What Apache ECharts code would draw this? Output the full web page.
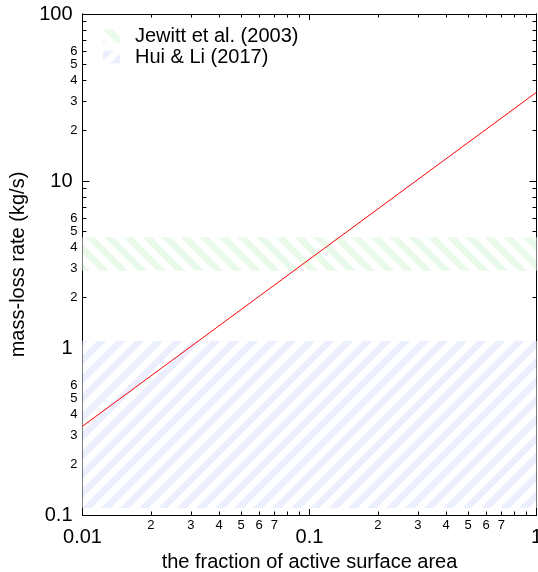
<!DOCTYPE html>
<html>
<head>
<meta charset="utf-8">
<script src="https://cdn.jsdelivr.net/npm/echarts@6/dist/echarts.min.js"></script>
<style>html,body{margin:0;padding:0;background:#fff}#c{width:538px;height:572px}</style>
</head>
<body>
<div id="c"></div>
<script>
// ---- data ----
const xMajor = [0.01, 0.1, 1];
const xMinor = [0.02,0.03,0.04,0.05,0.06,0.07,0.08,0.09,0.2,0.3,0.4,0.5,0.6,0.7,0.8,0.9];
const xMinorLabels = [0.02,0.03,0.04,0.05,0.06,0.07,0.2,0.3,0.4,0.5,0.6,0.7];
const yMajor = [0.1, 1, 10, 100];
const yMinor = [0.2,0.3,0.4,0.5,0.6,0.7,0.8,0.9,2,3,4,5,6,7,8,9,20,30,40,50,60,70,80,90];
const yMinorLabels = [0.2,0.3,0.4,0.5,0.6,2,3,4,5,6,20,30,40,50,60];
const lineX = [0.01, 1];
const lineY = [0.34, 34];
const jewittBand = [2.9, 4.6];
const huiBand = [0.11, 1.1];
const seriesNames = ['Jewitt et al. (2003)', 'Hui & Li (2017)'];

function makePattern(rgb, dir) {
  const P = 19;
  const c = document.createElement('canvas');
  c.width = P; c.height = P;
  const ctx = c.getContext('2d');
  const img = ctx.createImageData(P, P);
  for (let j = 0; j < P; j++) {
    for (let i = 0; i < P; i++) {
      let t = dir > 0 ? (i + j) : (i - j + P * 10);
      t = ((t % P) + P) % P;
      const half = P / 2;
      let a = Math.min(t + 0.5, half - t + 0.5);
      a = Math.max(0, Math.min(1, a));
      const k = (j * P + i) * 4;
      img.data[k] = Math.round(255 + (rgb[0] - 255) * a);
      img.data[k + 1] = Math.round(255 + (rgb[1] - 255) * a);
      img.data[k + 2] = Math.round(255 + (rgb[2] - 255) * a);
      img.data[k + 3] = 255;
    }
  }
  ctx.putImageData(img, 0, 0);
  return { image: c, repeat: 'repeat' };
}
const greenPat = makePattern([234, 250, 234], -1);
const bluePat = makePattern([236, 239, 254], 1);

const FONT = 'Liberation Sans, Arial, Helvetica, sans-serif';
const lead = v => String(Math.round(v / Math.pow(10, Math.floor(Math.log10(v) + 1e-9))));
const majFmt = v => {
  const map = {'-2': '0.01', '-1': '0.1', '0': '1', '1': '10', '2': '100'};
  return map[String(Math.round(Math.log10(v)))];
};

function xAx(pos, ticks, tickLen, labels, fmt, fs, margin, extra) {
  return Object.assign({
    type: 'log', logBase: 10, min: 0.01, max: 1, position: pos, gridIndex: 0,
    axisLine: { show: true, lineStyle: { color: '#000', width: 1 } },
    axisTick: { show: true, inside: true, length: tickLen, customValues: ticks, lineStyle: { color: '#000', width: 1 } },
    axisLabel: labels ? { show: true, customValues: labels, formatter: fmt, fontSize: fs, margin: margin, color: '#000', fontFamily: FONT, hideOverlap: false } : { show: false },
    splitLine: { show: false }, minorTick: { show: false }
  }, extra || {});
}
function yAx(pos, ticks, tickLen, labels, fmt, fs, margin, extra) {
  return Object.assign({
    type: 'log', logBase: 10, min: 0.1, max: 100, position: pos, gridIndex: 0,
    axisLine: { show: true, lineStyle: { color: '#000', width: 1 } },
    axisTick: { show: true, inside: true, length: tickLen, customValues: ticks, lineStyle: { color: '#000', width: 1 } },
    axisLabel: labels ? { show: true, customValues: labels, formatter: fmt, fontSize: fs, margin: margin, color: '#000', fontFamily: FONT, hideOverlap: false } : { show: false },
    splitLine: { show: false }, minorTick: { show: false }
  }, extra || {});
}

const chart = echarts.init(document.getElementById('c'), null, { renderer: 'canvas' });
chart.setOption({
  animation: false,
  backgroundColor: '#fff',
  grid: { left: 82.5, right: 1.5, top: 14, bottom: 57, containLabel: false, outerBoundsMode: 'none' },
  legend: {
    data: seriesNames.map(n => ({ name: n, icon: 'rect' })),
    orient: 'vertical', left: 98, top: 21,
    itemWidth: 17, itemHeight: 13, itemGap: 1,
    textStyle: { fontSize: 20, color: '#000', fontFamily: FONT, padding: [0, 0, 0, 10] }
  },
  xAxis: [
    xAx('bottom', xMajor, 6, xMajor, majFmt, 20, 12, {
      name: 'the fraction of active surface area', nameLocation: 'middle', nameGap: 37,
      nameTextStyle: { fontSize: 20, color: '#000', fontFamily: FONT }
    }),
    xAx('bottom', xMinor, 3.5, xMinorLabels, lead, 13, 4),
    xAx('top', xMajor, 6, null),
    xAx('top', xMinor, 3.5, null)
  ],
  yAxis: [
    yAx('left', yMajor, 7, yMajor, majFmt, 20, 10, {
      name: 'mass-loss rate (kg/s)', nameLocation: 'middle', nameGap: 53,
      nameTextStyle: { fontSize: 20, color: '#000', fontFamily: FONT }
    }),
    yAx('left', yMinor, 4, yMinorLabels, lead, 13, 5),
    yAx('right', yMajor, 7, null),
    yAx('right', yMinor, 4, null)
  ],
  series: [
    {
      name: seriesNames[0], type: 'line', xAxisIndex: 0, yAxisIndex: 0, data: [],
      itemStyle: { color: greenPat }, lineStyle: { color: greenPat },
      markArea: { silent: true, itemStyle: { color: greenPat, borderWidth: 0 },
        data: [[{ yAxis: jewittBand[0] }, { yAxis: jewittBand[1] }]] }
    },
    {
      name: seriesNames[1], type: 'line', xAxisIndex: 0, yAxisIndex: 0, data: [],
      itemStyle: { color: bluePat }, lineStyle: { color: bluePat },
      markArea: { silent: true, itemStyle: { color: bluePat, borderWidth: 0 },
        data: [[{ yAxis: huiBand[0] }, { yAxis: huiBand[1] }]] }
    },
    {
      name: 'model', type: 'line', xAxisIndex: 0, yAxisIndex: 0, z: 5,
      data: lineX.map((x, i) => [x, lineY[i]]),
      showSymbol: false, symbol: 'none',
      lineStyle: { color: '#ff0000', width: 1 }
    }
  ]
});
</script>
</body>
</html>
